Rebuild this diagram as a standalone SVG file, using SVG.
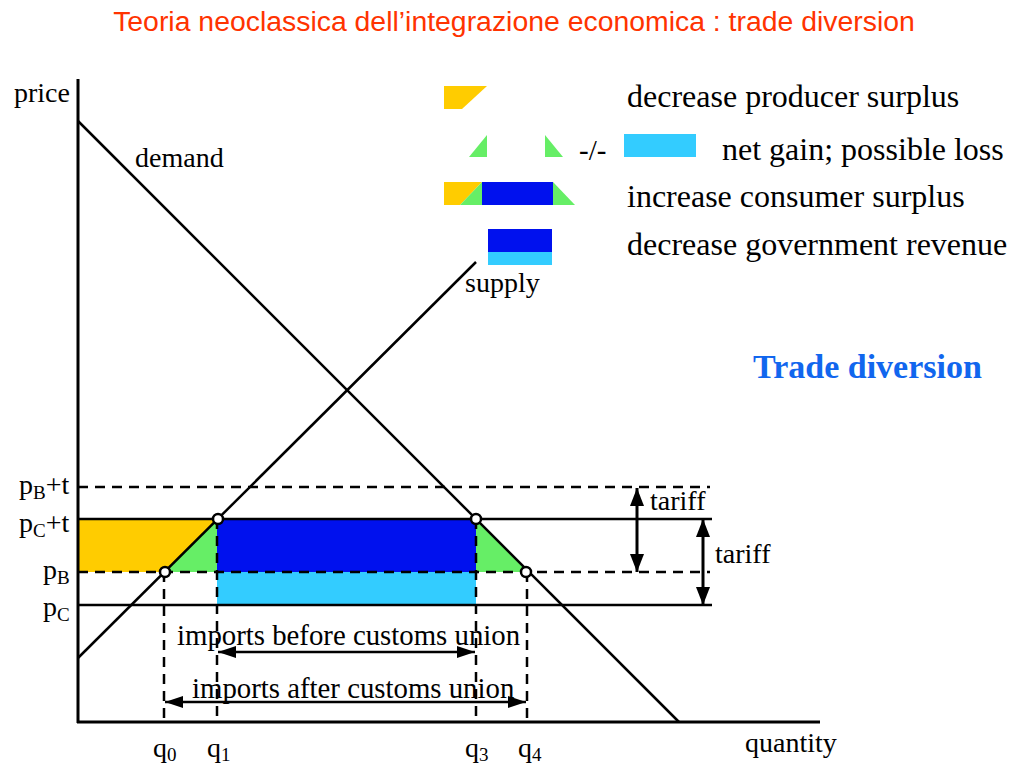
<svg xmlns="http://www.w3.org/2000/svg" width="1024" height="768" viewBox="0 0 1024 768">
<defs>
<style>
.t{font-family:"Liberation Serif","Times New Roman",serif;fill:#000}
.lg{font-size:32px}
.lb{font-size:28px}
.im{font-size:28.8px}
.sub{font-size:19px}
.ln{stroke:#000;stroke-width:2.5;fill:none}
.ax{stroke:#000;stroke-width:3;fill:none}
.ds{stroke:#000;stroke-width:2.5;fill:none;stroke-dasharray:10 7}
.yl{fill:#FFCC00}
.gr{fill:#66EE66}
.bl{fill:#0011EE}
.lbl{fill:#33CCFF}
.dot{fill:#fff;stroke:#000;stroke-width:2.5}
</style>
<marker id="ah" viewBox="0 0 18 14" refX="18" refY="7" markerWidth="18" markerHeight="14" markerUnits="userSpaceOnUse" orient="auto-start-reverse">
<path d="M0,0 L18,7 L0,14 z" fill="#000"/>
</marker>
<marker id="ah2" viewBox="0 0 18 12" refX="18" refY="6" markerWidth="18" markerHeight="12" markerUnits="userSpaceOnUse" orient="auto-start-reverse">
<path d="M0,0 L18,6 L0,12 z" fill="#000"/>
</marker>
</defs>
<rect width="1024" height="768" fill="#fff"/>

<text id="title" x="514" y="31" text-anchor="middle" style="font-family:'Liberation Sans',Arial,sans-serif;font-size:28.4px;fill:#FF3300">Teoria neoclassica dell’integrazione economica : trade diversion</text>

<g id="areas">
<polygon class="yl" points="78,519 217,519 164,572 78,572"/>
<polygon class="gr" points="164,572 217,519 217,572"/>
<rect class="bl" x="217" y="519" width="259" height="53"/>
<rect class="lbl" x="217" y="572" width="259" height="33"/>
<polygon class="gr" points="476,519 476,572 529,572"/>
</g>

<g id="connectors">
<line class="ds" x1="78" y1="487" x2="710" y2="487"/>
<line class="ds" x1="78" y1="572" x2="710" y2="572"/>
<line class="ln" x1="78" y1="519" x2="712" y2="519"/>
<line class="ln" x1="78" y1="605" x2="712" y2="605"/>
<line class="ds" x1="164" y1="572" x2="164" y2="722"/>
<line class="ds" x1="217" y1="519" x2="217" y2="722"/>
<line class="ds" x1="476" y1="519" x2="476" y2="722"/>
<line class="ds" x1="527" y1="572" x2="527" y2="722"/>
<line id="demand-line" class="ln" x1="78" y1="121" x2="679" y2="722"/>
<line id="supply-line" class="ln" x1="78" y1="658" x2="476" y2="262"/>
<line class="ax" x1="78" y1="79" x2="78" y2="723"/>
<line class="ax" x1="77" y1="722" x2="820" y2="722"/>
<line stroke="#000" stroke-width="3" x1="637" y1="488" x2="637" y2="572" marker-start="url(#ah)" marker-end="url(#ah)"/>
<line stroke="#000" stroke-width="3" x1="703" y1="519" x2="703" y2="605" marker-start="url(#ah)" marker-end="url(#ah)"/>
<line stroke="#000" stroke-width="2.5" x1="218" y1="652" x2="475" y2="652" marker-start="url(#ah2)" marker-end="url(#ah2)"/>
<line stroke="#000" stroke-width="2.5" x1="165" y1="702" x2="526" y2="702" marker-start="url(#ah2)" marker-end="url(#ah2)"/>
</g>

<g id="points">
<circle class="dot" cx="165" cy="572" r="5"/>
<circle class="dot" cx="218" cy="519" r="5"/>
<circle class="dot" cx="476" cy="519" r="5"/>
<circle class="dot" cx="526" cy="572" r="5"/>
</g>

<g id="axis-labels">
<text class="t lb" x="14" y="102">price</text>
<text class="t lb" x="745" y="752">quantity</text>
<text class="t lb" x="135" y="167">demand</text>
<text class="t lb" x="465" y="292">supply</text>
</g>

<g id="price-labels">
<text class="t lb" x="19" y="494">p<tspan class="sub" dy="5">B</tspan><tspan dy="-5">+t</tspan></text>
<text class="t lb" x="19" y="532">p<tspan class="sub" dy="5">C</tspan><tspan dy="-5">+t</tspan></text>
<text class="t lb" x="43" y="579">p<tspan class="sub" dy="5">B</tspan></text>
<text class="t lb" x="43" y="616">p<tspan class="sub" dy="5">C</tspan></text>
</g>

<g id="quantity-labels">
<text class="t lb" x="153" y="757">q<tspan class="sub" dy="4">0</tspan></text>
<text class="t lb" x="207" y="757">q<tspan class="sub" dy="4">1</tspan></text>
<text class="t lb" x="465" y="757">q<tspan class="sub" dy="4">3</tspan></text>
<text class="t lb" x="518" y="757">q<tspan class="sub" dy="4">4</tspan></text>
</g>

<g id="tariff-labels">
<text class="t lb" x="650" y="510">tariff</text>
<text class="t lb" x="715" y="563">tariff</text>
</g>

<g id="import-labels">
<text class="t im" x="177" y="645">imports before customs union</text>
<text class="t im" x="192" y="698">imports after customs union</text>
</g>

<g id="legend">
<g id="legend-producer">
<polygon class="yl" points="444,86 487,86 462,109 444,109"/>
<text class="t lg" x="627" y="107">decrease producer surplus</text>
</g>
<g id="legend-net">
<polygon class="gr" points="469,157 487,135 487,157"/>
<polygon class="gr" points="545,135 545,157 563,157"/>
<text class="t" x="579" y="160" style="font-size:29px">-/-</text>
<rect class="lbl" x="624" y="134" width="72" height="23"/>
<text class="t lg" x="722" y="160">net gain; possible loss</text>
</g>
<g id="legend-consumer">
<polygon class="yl" points="444,182 482,182 460,205 444,205"/>
<polygon class="gr" points="460,205 482,182 482,205"/>
<rect class="bl" x="482" y="182" width="71" height="23"/>
<polygon class="gr" points="553,182 553,205 575,205"/>
<text class="t lg" x="627" y="207">increase consumer surplus</text>
</g>
<g id="legend-government">
<rect class="bl" x="488" y="229" width="64" height="23"/>
<rect class="lbl" x="488" y="252" width="64" height="13"/>
<text class="t lg" x="627" y="255">decrease government revenue</text>
</g>
</g>

<text id="trade-diversion" x="753" y="378" style="font-family:'Liberation Serif','Times New Roman',serif;font-size:34px;font-weight:bold;fill:#1166EE">Trade diversion</text>
</svg>
